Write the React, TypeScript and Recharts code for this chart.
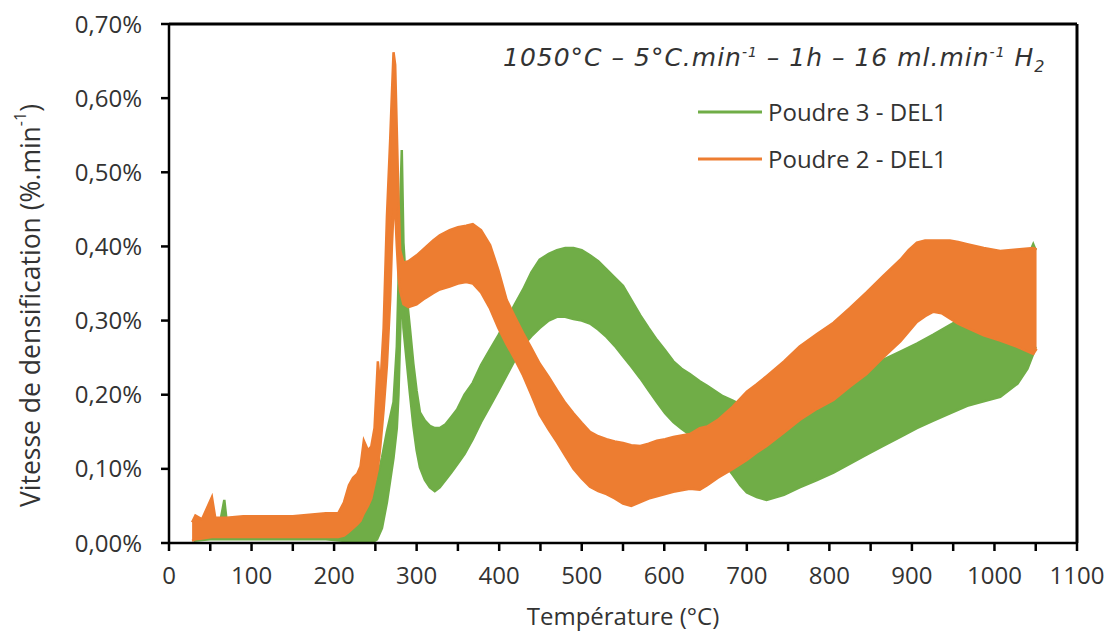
import React from 'react'
import { ComposedChart, Area, XAxis, YAxis, Label, ReferenceLine } from 'recharts'

// Températures (°C) et enveloppes basse/haute (%.min-1)
const greenT = [30, 50, 62, 67, 70, 100, 130, 160, 190, 210, 220, 232, 245, 252, 258, 264, 268, 272, 276, 278, 280, 282, 284, 288, 292, 296, 300, 304, 310, 316, 322, 328, 335, 342, 349, 358, 368, 378, 389, 399, 409, 419, 429, 439, 449, 460, 470, 480, 490, 500, 510, 520, 530, 540, 550, 560, 571, 581, 591, 601, 611, 621, 631, 643, 652, 671, 683, 692, 700, 712, 724, 745, 764, 785, 805, 825, 845, 865, 886, 906, 926, 946, 967, 987, 1007, 1028, 1040, 1047, 1050]
const greenLow = [0.003, 0.005, 0.005, 0.005, 0.005, 0.005, 0.005, 0.005, 0.005, 0.003, 0, 0, 0, 0.005, 0.02, 0.055, 0.085, 0.115, 0.155, 0.2, 0.28, 0.36, 0.29, 0.245, 0.2, 0.158, 0.125, 0.102, 0.085, 0.075, 0.07, 0.075, 0.085, 0.095, 0.106, 0.12, 0.14, 0.163, 0.185, 0.205, 0.226, 0.247, 0.266, 0.279, 0.29, 0.3, 0.305, 0.305, 0.302, 0.3, 0.296, 0.288, 0.278, 0.266, 0.252, 0.238, 0.222, 0.206, 0.19, 0.175, 0.163, 0.154, 0.146, 0.138, 0.13, 0.11, 0.092, 0.078, 0.068, 0.062, 0.058, 0.065, 0.075, 0.085, 0.095, 0.107, 0.119, 0.131, 0.143, 0.155, 0.165, 0.175, 0.185, 0.191, 0.197, 0.215, 0.235, 0.255, 0.265]
const greenHigh = [0.02, 0.028, 0.028, 0.058, 0.028, 0.03, 0.03, 0.03, 0.03, 0.028, 0.025, 0.045, 0.055, 0.085, 0.115, 0.15, 0.17, 0.19, 0.265, 0.35, 0.45, 0.53, 0.405, 0.332, 0.288, 0.242, 0.205, 0.176, 0.165, 0.158, 0.155, 0.155, 0.16, 0.17, 0.18, 0.2, 0.216, 0.24, 0.261, 0.28, 0.301, 0.322, 0.342, 0.365, 0.382, 0.39, 0.395, 0.398, 0.398, 0.395, 0.388, 0.38, 0.369, 0.358, 0.347, 0.328, 0.307, 0.29, 0.274, 0.26, 0.245, 0.235, 0.228, 0.218, 0.212, 0.198, 0.192, 0.187, 0.182, 0.175, 0.172, 0.182, 0.19, 0.198, 0.208, 0.222, 0.236, 0.247, 0.258, 0.269, 0.281, 0.294, 0.307, 0.317, 0.327, 0.356, 0.385, 0.403, 0.395]

const orangeT = [28, 32, 40, 52, 56, 70, 90, 110, 130, 150, 170, 190, 205, 212, 218, 223, 228, 232, 236, 241, 245, 249, 253, 256, 260, 264, 268, 270, 272, 274, 276, 278, 280, 284, 290, 300, 310, 320, 328, 340, 350, 360, 368, 378, 389, 399, 409, 419, 429, 439, 449, 460, 470, 480, 490, 500, 510, 520, 530, 540, 550, 560, 571, 581, 591, 601, 611, 621, 631, 643, 652, 665, 683, 700, 712, 724, 745, 764, 785, 805, 825, 845, 865, 886, 896, 906, 916, 926, 936, 946, 956, 967, 987, 1007, 1027, 1047, 1051]
const orangeLow = [0.003, 0.005, 0.006, 0.008, 0.008, 0.008, 0.008, 0.008, 0.008, 0.008, 0.008, 0.008, 0.008, 0.01, 0.015, 0.02, 0.025, 0.03, 0.04, 0.05, 0.06, 0.08, 0.1, 0.13, 0.18, 0.24, 0.33, 0.4, 0.45, 0.45, 0.4, 0.36, 0.34, 0.322, 0.318, 0.322, 0.33, 0.337, 0.342, 0.346, 0.35, 0.352, 0.35, 0.338, 0.316, 0.29, 0.268, 0.248, 0.226, 0.2, 0.173, 0.153, 0.136, 0.118, 0.1, 0.087, 0.076, 0.07, 0.066, 0.06, 0.053, 0.05, 0.055, 0.06, 0.063, 0.066, 0.069, 0.071, 0.073, 0.072, 0.078, 0.088, 0.1, 0.112, 0.122, 0.131, 0.149, 0.166, 0.181, 0.193, 0.211, 0.228, 0.25, 0.272, 0.285, 0.298, 0.306, 0.312, 0.31, 0.303, 0.296, 0.29, 0.28, 0.273, 0.265, 0.255, 0.262]
const orangeHigh = [0.028, 0.037, 0.032, 0.062, 0.034, 0.034, 0.036, 0.036, 0.036, 0.036, 0.038, 0.04, 0.04, 0.055, 0.078, 0.088, 0.093, 0.103, 0.138, 0.125, 0.13, 0.155, 0.245, 0.21, 0.29, 0.44, 0.545, 0.605, 0.662, 0.645, 0.555, 0.465, 0.395, 0.378, 0.38, 0.388, 0.398, 0.408, 0.415, 0.422, 0.426, 0.428, 0.43, 0.422, 0.402, 0.368, 0.328, 0.305, 0.283, 0.263, 0.242, 0.224, 0.206, 0.189, 0.175, 0.162, 0.15, 0.144, 0.14, 0.137, 0.135, 0.132, 0.131, 0.134, 0.138, 0.14, 0.143, 0.145, 0.147, 0.155, 0.157, 0.166, 0.184, 0.204, 0.214, 0.225, 0.245, 0.265, 0.282, 0.297, 0.317, 0.338, 0.36, 0.382, 0.395, 0.405, 0.408, 0.408, 0.408, 0.408, 0.406, 0.403, 0.398, 0.394, 0.396, 0.398, 0.396]

const xTicks = [0, 50, 100, 150, 200, 250, 300, 350, 400, 450, 500, 550, 600, 650, 700, 750, 800, 850, 900, 950, 1000, 1050, 1100]
const yTicks = [0, 0.1, 0.2, 0.3, 0.4, 0.5, 0.6, 0.7]

const GREEN = '#70AD47'
const ORANGE = '#ED7D31'
const FONT = '"Open Sans", sans-serif'
const TEXT = '#333333'

const greenData = greenT.map((t, i) => ({ t, band: [greenLow[i], greenHigh[i]] }))
const orangeData = orangeT.map((t, i) => ({ t, band: [orangeLow[i], orangeHigh[i]] }))

const legendItems = [
  { label: 'Poudre 3 - DEL1', color: GREEN },
  { label: 'Poudre 2 - DEL1', color: ORANGE },
]

function YTitle(props: any) {
  const vb = props.viewBox || { x: 0, y: 24, width: 169, height: 519 }
  const cx = 30
  const cy = vb.y + vb.height / 2 + 22
  return (
    <text
      x={cx}
      y={cy}
      transform={`rotate(-90, ${cx}, ${cy})`}
      textAnchor="middle"
      dominantBaseline="central"
      fontFamily={FONT}
      fontSize={26.5}
      fill={TEXT}
    >
      Vitesse de densification (%.min
      <tspan fontSize={16} dy={-10}>-1</tspan>
      <tspan dy={10}>)</tspan>
    </text>
  )
}

function XTitle(props: any) {
  const vb = props.viewBox || { x: 169, y: 543, width: 908, height: 93 }
  return (
    <text x={vb.x + vb.width / 2} y={625} textAnchor="middle" fontFamily={FONT} fontSize={24} fill={TEXT}>
      Température (°C)
    </text>
  )
}

export default function App() {
  const fmtX = (v: number) => (v % 100 === 0 ? String(v) : '')
  const fmtY = (v: number) => `${v.toFixed(2).replace('.', ',')}%`
  const axisLine = { stroke: '#000', strokeWidth: 2.5 }
  const tickLine = { stroke: '#000', strokeWidth: 2.5 }

  return (
    <div style={{ position: 'absolute', left: 0, top: 0, width: 1111, height: 636, background: '#fff' }}>
      <ComposedChart width={1111} height={636} margin={{ top: 24, right: 34, left: 0, bottom: 0 }}>
        <XAxis
          xAxisId="b"
          dataKey="t"
          type="number"
          domain={[0, 1100]}
          ticks={xTicks}
          tickFormatter={fmtX}
          interval={0}
          height={93}
          tickSize={8}
          tickMargin={16}
          axisLine={axisLine}
          tickLine={tickLine}
          tick={{ fontFamily: FONT, fontSize: 24, fill: TEXT }}
          allowDataOverflow
        >
          <Label content={<XTitle />} position="insideBottom" />
        </XAxis>
        <YAxis
          yAxisId="l"
          type="number"
          domain={[0, 0.7]}
          ticks={yTicks}
          tickFormatter={fmtY}
          interval={0}
          width={169}
          tickSize={8}
          tickMargin={19}
          axisLine={axisLine}
          tickLine={tickLine}
          tick={{ fontFamily: FONT, fontSize: 24, fill: TEXT }}
          allowDataOverflow
        >
          <Label content={<YTitle />} position="insideLeft" />
        </YAxis>
        <Area
          xAxisId="b"
          yAxisId="l"
          data={greenData}
          dataKey="band"
          type="linear"
          stroke={GREEN}
          strokeWidth={2.5}
          fill={GREEN}
          fillOpacity={1}
          isAnimationActive={false}
          name="Poudre 3 - DEL1"
        />
        <Area
          xAxisId="b"
          yAxisId="l"
          data={orangeData}
          dataKey="band"
          type="linear"
          stroke={ORANGE}
          strokeWidth={2.5}
          fill={ORANGE}
          fillOpacity={1}
          isAnimationActive={false}
          name="Poudre 2 - DEL1"
        />
        <ReferenceLine xAxisId="b" yAxisId="l" y={0.7} stroke="#000" strokeWidth={3} ifOverflow="visible" />
        <ReferenceLine xAxisId="b" yAxisId="l" x={1100} stroke="#000" strokeWidth={3} ifOverflow="visible" />
      </ComposedChart>
      <div style={{ position: 'absolute', left: 698, top: 88, fontFamily: FONT, fontSize: 24, color: TEXT }}>
        {legendItems.map(it => (
          <div key={it.label} style={{ display: 'flex', alignItems: 'center', height: 47 }}>
            <svg width={64} height={6} style={{ marginRight: 6 }}>
              <line x1={0} y1={3} x2={64} y2={3} stroke={it.color} strokeWidth={3} />
            </svg>
            <span>{it.label}</span>
          </div>
        ))}
      </div>
      <div
        style={{
          position: 'absolute',
          left: 503,
          top: 40,
          fontFamily: '"DejaVu Sans", sans-serif',
          fontStyle: 'italic',
          fontSize: 25,
          letterSpacing: 1,
          lineHeight: '25px',
          color: TEXT,
          whiteSpace: 'nowrap',
        }}
      >
        1050°C – 5°C.min<sup style={{ fontSize: 14 }}>-1</sup> – 1h – 16 ml.min<sup style={{ fontSize: 14 }}>-1</sup> H<sub style={{ fontSize: 16 }}>2</sub>
      </div>
    </div>
  )
}
